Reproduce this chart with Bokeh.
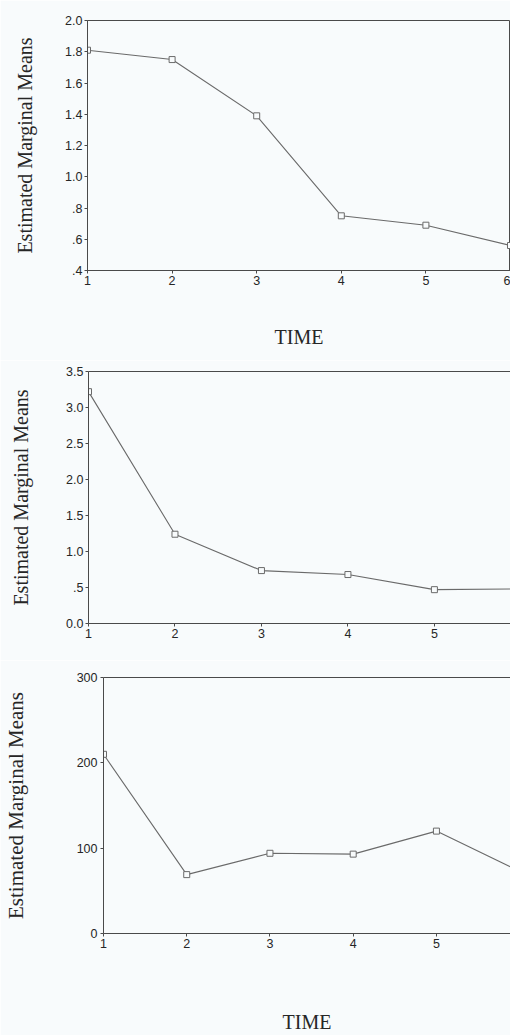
from bokeh.plotting import figure
from bokeh.models import Range1d, FixedTicker, LinearAxis
from bokeh.embed import file_html
from bokeh.resources import INLINE

# ---- data ----
time = [1, 2, 3, 4, 5, 6]
means_a = [1.81, 1.75, 1.39, 0.75, 0.69, 0.56]
means_b = [3.22, 1.24, 0.735, 0.68, 0.47, 0.48]
means_c = [210, 69, 94, 93, 120, 73]

x_ticks = [1, 2, 3, 4, 5, 6]
x_labels = ["1", "2", "3", "4", "5", "6"]
ticks_a = [0.4, 0.6, 0.8, 1.0, 1.2, 1.4, 1.6, 1.8, 2.0]
labels_a = [".4", ".6", ".8", "1.0", "1.2", "1.4", "1.6", "1.8", "2.0"]
ticks_b = [0.0, 0.5, 1.0, 1.5, 2.0, 2.5, 3.0, 3.5]
labels_b = ["0.0", ".5", "1.0", "1.5", "2.0", "2.5", "3.0", "3.5"]
ticks_c = [0, 100, 200, 300]
labels_c = ["0", "100", "200", "300"]

y_title = "Estimated Marginal Means"
x_title = "TIME"

BG = "#f8fbfc"
AX = "#4a4a4a"
LINE = "#6a6a6a"
TXT = "#262626"
SANS = "Liberation Sans"
SERIF = "Liberation Serif"


def style_axis(ax, ticks, labels, standoff):
    ax.ticker = FixedTicker(ticks=ticks)
    ax.major_label_overrides = {t: l for t, l in zip(ticks, labels)}
    ax.major_tick_out = 3
    ax.major_tick_in = 0
    ax.minor_tick_line_color = None
    ax.axis_line_color = AX
    ax.major_tick_line_color = AX
    ax.major_label_text_font = SANS
    ax.major_label_text_font_size = "12.5px"
    ax.major_label_text_color = TXT
    ax.major_label_standoff = standoff
    ax.axis_label_text_font = SERIF
    ax.axis_label_text_font_style = "normal"
    ax.axis_label_text_color = TXT


def panel(height, b_left, b_top, b_bottom, x_end, y0, y1, ys, yt, yl,
          tick_standoff, ylab_standoff, ylab_size, xlab_standoff, box_outline):
    p = figure(width=510, height=height, output_backend="svg",
               toolbar_location=None,
               x_range=Range1d(1, x_end), y_range=Range1d(y0, y1),
               min_border_left=b_left, min_border_right=0,
               min_border_top=b_top, min_border_bottom=b_bottom)
    p.background_fill_color = BG
    p.border_fill_color = BG
    p.grid.visible = False
    xa = p.xaxis[0]
    ya = p.yaxis[0]
    style_axis(xa, x_ticks, x_labels, 2)
    style_axis(ya, yt, yl, tick_standoff)
    ya.axis_label = y_title
    ya.axis_label_text_font_size = ylab_size
    ya.axis_label_standoff = ylab_standoff
    if xlab_standoff is not None:
        xa.axis_label = x_title
        xa.axis_label_text_font_size = "20px"
        xa.axis_label_standoff = xlab_standoff
    if box_outline:
        p.outline_line_color = AX
    else:
        p.outline_line_color = None
        top = LinearAxis(ticker=FixedTicker(ticks=[]),
                         major_tick_line_color=None, minor_tick_line_color=None,
                         major_label_text_font_size="0px", major_label_standoff=0,
                         major_tick_out=0, major_tick_in=0, axis_line_color=AX)
        p.add_layout(top, "above")
    p.line(time, ys, line_color=LINE, line_width=1.1)
    p.scatter(time, ys, marker="square", size=6, line_color=LINE,
              fill_color=BG, line_width=1)
    return p


p1 = panel(360, 87, 20, 90, 6, 0.4, 2.0, means_a, ticks_a, labels_a,
           2, 26, "20px", 38, True)
p2 = panel(300, 88, 11, 37, 5.88, 0.0, 3.5, means_b, ticks_b, labels_b,
           2, 31, "20px", None, False)
p3 = panel(375, 103, 17, 101, 5.89, 0, 300, means_c, ticks_c, labels_c,
           3, 46, "21px", 60, False)

open("out.html", "w").write(file_html([p1, p2, p3], INLINE))
